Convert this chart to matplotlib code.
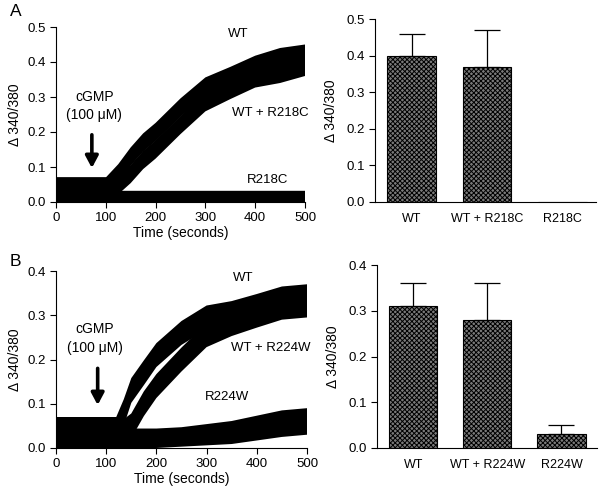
import matplotlib
matplotlib.use("Agg")
import matplotlib.pyplot as plt
import numpy as np

plt.rcParams['font.family'] = ['Liberation Sans', 'DejaVu Sans']
plt.rcParams['font.size'] = 9.5
plt.rcParams['hatch.linewidth'] = 0.7

# ---------------- Panel A traces ----------------
tA = [0, 50, 100, 125, 150, 175, 200, 250, 300, 350, 400, 450, 500]
wtA = [0.035, 0.035, 0.035, 0.08, 0.13, 0.17, 0.20, 0.27, 0.33, 0.36, 0.39, 0.41, 0.42]
wtR218C = [0.035, 0.035, 0.035, 0.05, 0.08, 0.12, 0.15, 0.22, 0.285, 0.32, 0.355, 0.37, 0.39]
r218c = [0.035, 0.035, 0.035, 0.016, 0.016, 0.016, 0.016, 0.016, 0.016, 0.016, 0.016, 0.016, 0.016]
noiseA = [0.035, 0.035, 0.035, 0.028, 0.026, 0.026, 0.026, 0.026, 0.026, 0.026, 0.028, 0.03, 0.03]
noiseR218C = [0.035, 0.035, 0.035, 0.016, 0.016, 0.016, 0.016, 0.016, 0.016, 0.016, 0.016, 0.016, 0.016]

# ---------------- Panel B traces ----------------
tB = [0, 50, 100, 120, 135, 150, 175, 200, 250, 300, 350, 400, 450, 500]
wtB = [0.035, 0.035, 0.035, 0.035, 0.08, 0.13, 0.17, 0.21, 0.26, 0.295, 0.305, 0.32, 0.335, 0.34]
wtR224W = [0.035, 0.035, 0.035, 0.035, 0.035, 0.05, 0.10, 0.14, 0.20, 0.255, 0.28, 0.30, 0.32, 0.325]
r224w = [0.035, 0.035, 0.035, 0.035, 0.025, 0.022, 0.022, 0.022, 0.025, 0.03, 0.035, 0.045, 0.055, 0.06]
noiseB = [0.035, 0.035, 0.035, 0.035, 0.03, 0.028, 0.028, 0.027, 0.027, 0.027, 0.027, 0.028, 0.03, 0.03]
noiseR224W = [0.035, 0.035, 0.035, 0.035, 0.025, 0.022, 0.022, 0.022, 0.022, 0.024, 0.026, 0.028, 0.03, 0.03]

# ---------------- Bar data ----------------
catsA = ["WT", "WT + R218C", "R218C"]
barA = [0.40, 0.37, 0.0]
errA = [0.06, 0.10, 0.0]
catsB = ["WT", "WT + R224W", "R224W"]
barB = [0.31, 0.28, 0.03]
errB = [0.05, 0.08, 0.02]

W, H = 602, 496
fig = plt.figure(figsize=(W / 100, H / 100), dpi=100)


def ax_px(l, t, r, b):
    return fig.add_axes([l / W, 1 - b / H, (r - l) / W, (b - t) / H])


def style(ax):
    for s in ("top", "right"):
        ax.spines[s].set_visible(False)
    ax.tick_params(direction="out", length=4, width=0.8, labelsize=9.5)


def band(ax, t, m, n):
    m = np.asarray(m); n = np.asarray(n)
    ax.fill_between(t, m - n, m + n, facecolor="black", lw=0)


ARROW = dict(arrowstyle="-|>,head_length=0.75,head_width=0.4", color="black", lw=2.6,
             shrinkA=0, shrinkB=0)

# Panel A trace
axA = ax_px(56, 27, 305, 202)
style(axA)
band(axA, tA, wtA, noiseA)
band(axA, tA, wtR218C, noiseA)
band(axA, tA, r218c, noiseR218C)
axA.set_xlim(0, 500); axA.set_ylim(0, 0.5)
axA.set_xticks([0, 100, 200, 300, 400, 500])
axA.set_yticks([0.0, 0.1, 0.2, 0.3, 0.4, 0.5])
axA.set_yticklabels(["0.0", "0.1", "0.2", "0.3", "0.4", "0.5"])
axA.set_xlabel("Time (seconds)", fontsize=10, labelpad=1)
axA.set_ylabel("Δ 340/380", fontsize=10, labelpad=4)
axA.text(365, 0.48, "WT", ha="center", va="center", fontsize=9.5)
axA.text(430, 0.255, "WT + R218C", ha="center", va="center", fontsize=9.5)
axA.text(425, 0.062, "R218C", ha="center", va="center", fontsize=9.5)
axA.text(78, 0.3, "cGMP", ha="center", va="center", fontsize=10)
axA.text(76, 0.25, "(100 μM)", ha="center", va="center", fontsize=10)
axA.annotate("", xy=(72, 0.097), xytext=(72, 0.192), arrowprops=ARROW)

# Panel B trace
axB = ax_px(56, 271, 307, 448)
style(axB)
band(axB, tB, wtB, noiseB)
band(axB, tB, wtR224W, noiseB)
band(axB, tB, r224w, noiseR224W)
axB.set_xlim(0, 500); axB.set_ylim(0, 0.4)
axB.set_xticks([0, 100, 200, 300, 400, 500])
axB.set_yticks([0.0, 0.1, 0.2, 0.3, 0.4])
axB.set_yticklabels(["0.0", "0.1", "0.2", "0.3", "0.4"])
axB.set_xlabel("Time (seconds)", fontsize=10, labelpad=1)
axB.set_ylabel("Δ 340/380", fontsize=10, labelpad=4)
axB.text(373, 0.385, "WT", ha="center", va="center", fontsize=9.5)
axB.text(427, 0.225, "WT + R224W", ha="center", va="center", fontsize=9.5)
axB.text(340, 0.115, "R224W", ha="center", va="center", fontsize=9.5)
axB.text(78, 0.27, "cGMP", ha="center", va="center", fontsize=10)
axB.text(78, 0.227, "(100 μM)", ha="center", va="center", fontsize=10)
axB.annotate("", xy=(83, 0.097), xytext=(83, 0.18), arrowprops=ARROW)


def bars(ax, cats, vals, errs, ymax, yt, xr):
    style(ax)
    x = np.arange(len(cats))
    ax.bar(x, vals, width=0.65, color="#7a7a7a", edgecolor="black", linewidth=0.8,
           hatch="xxxxxxx")
    for xi, v, e in zip(x, vals, errs):
        if e > 0:
            ax.errorbar([xi], [v], yerr=[[0], [e]], fmt="none", ecolor="black",
                        elinewidth=0.9, capsize=9.5, capthick=0.9)
    ax.set_xlim(-0.49, xr)
    ax.set_ylim(0, ymax)
    ax.set_yticks(yt)
    ax.set_yticklabels(["%.1f" % v for v in yt])
    ax.set_xticks(x)
    ax.set_xticklabels(cats, fontsize=9)
    ax.tick_params(axis="x", length=0, pad=8)
    ax.set_ylabel("Δ 340/380", fontsize=10, labelpad=6)


axC = ax_px(375, 19, 596, 202)
bars(axC, catsA, barA, errA, 0.5, [0.0, 0.1, 0.2, 0.3, 0.4, 0.5], 2.45)
axD = ax_px(377, 265, 597, 448)
bars(axD, catsB, barB, errB, 0.4, [0.0, 0.1, 0.2, 0.3, 0.4], 2.48)

fig.text(10 / W, 1 - 12 / H, "A", fontsize=12.5, ha="left", va="center")
fig.text(10 / W, 1 - 262 / H, "B", fontsize=12.5, ha="left", va="center")

fig.savefig("out.png", dpi=100)
